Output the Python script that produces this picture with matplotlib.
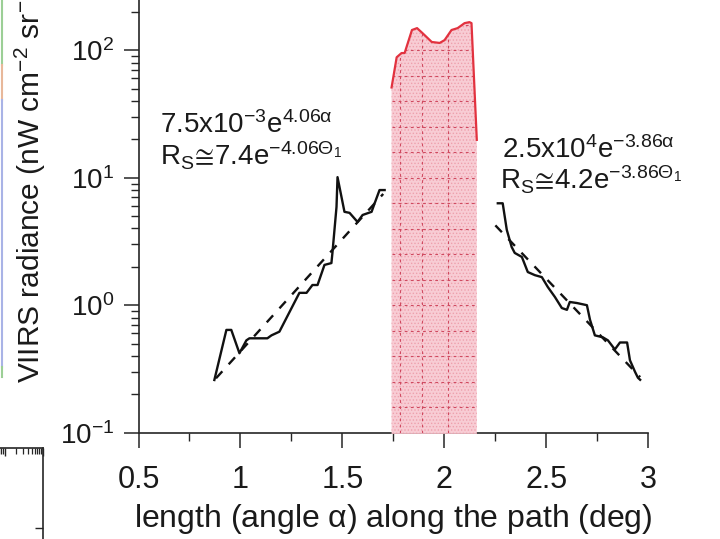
import numpy as np
import matplotlib
matplotlib.use("Agg")
import matplotlib.pyplot as plt
from matplotlib.ticker import LogLocator, NullFormatter, FixedLocator
from matplotlib.lines import Line2D

plt.rcParams['font.family'] = ['Liberation Sans', 'DejaVu Sans']
plt.rcParams['mathtext.fontset'] = 'custom'
plt.rcParams['mathtext.rm'] = 'Liberation Sans'
plt.rcParams['mathtext.it'] = 'Liberation Sans:italic'
plt.rcParams['mathtext.bf'] = 'Liberation Sans:bold'
plt.rcParams['mathtext.sf'] = 'Liberation Sans'
plt.rcParams['mathtext.default'] = 'regular'
plt.rcParams['mathtext.fallback'] = 'stixsans'
plt.rcParams['hatch.linewidth'] = 0.6

# --- radiance profile along the path ---
# rising branch (before the bright core)
alpha_rise = [0.872, 0.931, 0.955, 0.995, 1.029, 1.044, 1.132, 1.152, 1.191, 1.289,
              1.324, 1.353, 1.378, 1.412, 1.446, 1.451, 1.471, 1.476, 1.510, 1.535,
              1.574, 1.599, 1.643, 1.658, 1.682, 1.707]
rad_rise = [0.259, 0.64, 0.64, 0.42, 0.53, 0.55, 0.55, 0.58, 0.62, 1.25,
            1.25, 1.44, 1.44, 2.07, 2.14, 2.57, 5.9, 10.1, 5.4, 5.3,
            4.5, 5.1, 5.4, 6.3, 8.0, 8.0]

# bright core (saturated region)
alpha_core = [1.741, 1.766, 1.790, 1.805, 1.841, 1.866, 1.893, 1.938, 1.977, 2.001,
              2.035, 2.065, 2.099, 2.123, 2.133, 2.159]
rad_core = [51, 88, 95, 95, 144, 149, 136, 116, 114, 120,
            144, 149, 163, 166, 163, 19.8]

# falling branch (after the bright core)
alpha_fall = [2.262, 2.286, 2.306, 2.330, 2.345, 2.380, 2.409, 2.444, 2.478, 2.507,
              2.542, 2.576, 2.601, 2.615, 2.650, 2.699, 2.714, 2.738, 2.777, 2.802,
              2.836, 2.861, 2.896, 2.910, 2.935, 2.949, 2.960]
rad_fall = [6.3, 6.3, 3.9, 2.86, 2.57, 2.39, 1.82, 1.72, 1.66, 1.39,
            1.16, 0.95, 0.92, 1.06, 1.04, 1.0, 0.77, 0.58, 0.56, 0.53,
            0.45, 0.51, 0.51, 0.37, 0.30, 0.27, 0.26]

# exponential fits  A * exp(k * alpha)
fit_rise = (7.5e-3, 4.06)
fit_fall = (2.5e4, -3.86)
fit_rise_range = (0.88, 1.70)
fit_fall_range = (2.25, 2.96)

x_ticks = [0.5, 1, 1.5, 2, 2.5, 3]
x_tick_labels = ['0.5', '1', '1.5', '2', '2.5', '3']

W, H = 720, 539
fig = plt.figure(figsize=(W / 100, H / 100), dpi=100)

x0_px, x1_px = 138.5, 648.3
ybot_px, decade_px = 432.7, 127.5
ax = fig.add_axes([x0_px / W, (H - ybot_px) / H, (x1_px - x0_px) / W, 4 * decade_px / H])
ax.set_xlim(0.5, 3)
ax.set_yscale('log')
ax.set_ylim(0.1, 1000)

ink = '#262626'
txt = '#1a1a1a'
for side in ('top', 'right'):
    ax.spines[side].set_visible(False)
for side in ('left', 'bottom'):
    ax.spines[side].set_linewidth(1.2)
    ax.spines[side].set_color(ink)

ax.xaxis.set_major_locator(FixedLocator(x_ticks))
ax.set_xticklabels(x_tick_labels)
ax.xaxis.set_minor_locator(FixedLocator(np.array(x_ticks[:-1]) + 0.25))
ax.yaxis.set_major_locator(LogLocator(base=10))
ax.yaxis.set_minor_locator(LogLocator(base=10, subs=np.arange(2, 10)))
ax.yaxis.set_minor_formatter(NullFormatter())
ax.tick_params(which='major', direction='out', length=10.5, width=1.1,
               color=ink, labelcolor=txt)
ax.tick_params(axis='x', which='major', pad=13, labelsize=22)
ax.tick_params(axis='y', which='major', pad=7, labelsize=20)
ax.tick_params(which='minor', direction='out', length=5.5, width=1.0, color=ink)

# bright core: shaded band with dashed grid and red outline
core_fill = ax.fill_between(alpha_core, rad_core, 0.098, facecolor='#f8ccd4',
                            edgecolor='none', zorder=3, clip_on=False)
ax.fill_between(alpha_core, rad_core, 0.098, facecolor='none', hatch='.....',
                edgecolor='#eea0ad', linewidth=0, zorder=3.1, clip_on=False)
clip_path = core_fill.get_paths()[0]
grid_levels = 10 ** np.arange(-0.8, 2.3, 0.2)
grid_cols = [1.78, 1.89, 2.02]
for lv in grid_levels:
    ln, = ax.plot([alpha_core[0], alpha_core[-1]], [lv, lv], color='#cf4a60',
                  lw=0.8, ls=(0, (2.5, 3)), zorder=3.5)
    ln.set_clip_path(clip_path, ax.transData)
for gc in grid_cols:
    ln, = ax.plot([gc, gc], [0.1, 300], color='#cf4a60', lw=0.8,
                  ls=(0, (2.5, 3)), zorder=3.5)
    ln.set_clip_path(clip_path, ax.transData)
ax.plot(alpha_core, rad_core, color='#e2323f', lw=1.6, zorder=4)

# measured branches
ax.plot(alpha_rise, rad_rise, color='#111111', lw=1.7, zorder=4)
ax.plot(alpha_fall, rad_fall, color='#111111', lw=1.7, zorder=4)

# fitted exponentials
xr = np.linspace(*fit_rise_range, 60)
ax.plot(xr, fit_rise[0] * np.exp(fit_rise[1] * xr), color='#111111', lw=1.7,
        ls=(0, (4, 4)), zorder=4)
xf = np.linspace(*fit_fall_range, 60)
ax.plot(xf, fit_fall[0] * np.exp(fit_fall[1] * xf), color='#111111', lw=1.7,
        ls=(0, (4, 4)), zorder=4)

ax.set_xlabel(r'length (angle $\alpha$) along the path (deg)', fontsize=23,
              labelpad=5, color=txt)


def fig_text(px, py, s, **kw):
    fig.text(px / W, 1 - py / H, s, fontsize=20, color=txt,
             va='baseline', ha='left', **kw)


fig_text(160, 133, r'7.5x10$^{-3}$e$^{4.06\alpha}$')
fig_text(160, 165, r'R$_{S}\!\cong\!$7.4e$^{-4.06\Theta_{1}}$')
fig_text(502, 158, r'2.5x10$^{4}$e$^{-3.86\alpha}$')
fig_text(500, 190, r'R$_{S}\!\cong\!$4.2e$^{-3.86\Theta_{1}}$')

fig.text(40 / W, 1 - 383 / H, r'VIIRS radiance (nW cm$^{-2}$ sr$^{-1}$)',
         fontsize=21.5, color=txt, rotation=90, rotation_mode='anchor',
         ha='left', va='baseline')

# neighbouring panel: corner of its frame (bottom left) and coloured edge
ax2 = fig.add_axes([(43 - 114) / W, (H - 648) / H, 114 / W, 200 / H])
ax2.set_xscale('log')
ax2.set_xlim(1e-2, 1e1)
ax2.set_ylim(0, 100)
for side in ('left', 'bottom'):
    ax2.spines[side].set_visible(False)
for side in ('top', 'right'):
    ax2.spines[side].set_linewidth(1.2)
    ax2.spines[side].set_color(ink)
ax2.xaxis.set_ticks_position('top')
ax2.yaxis.set_ticks_position('right')
ax2.xaxis.set_minor_locator(LogLocator(base=10, subs=np.arange(2, 10)))
ax2.set_yticks([60])
ax2.tick_params(which='both', direction='in', labeltop=False, labelright=False,
                labelbottom=False, labelleft=False, color=ink)
ax2.tick_params(which='major', length=6, width=1.0)
ax2.tick_params(which='minor', length=4, width=0.9)
ax2.patch.set_alpha(0)

edge_segments = [((0, 65), '#9ccf96'), ((65, 100), '#e8b89a'),
                 ((100, 367), '#a9b3e6'), ((367, 377), '#9ccf96')]
for (ya, yb), col in edge_segments:
    fig.add_artist(Line2D([1.5 / W, 1.5 / W], [1 - ya / H, 1 - yb / H],
                          transform=fig.transFigure, color=col, lw=1.5))

fig.savefig('out.png', dpi=100)
